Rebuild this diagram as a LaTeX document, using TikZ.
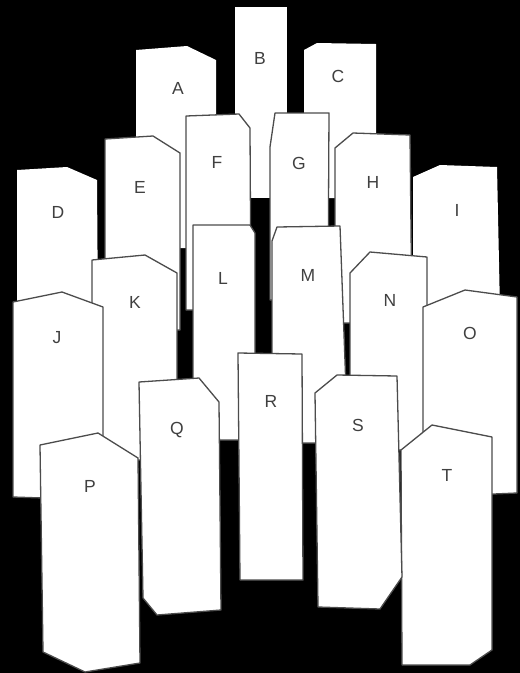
\documentclass[tikz,border=0pt]{standalone}
\usepackage{fontspec}
\setmainfont{Liberation Sans}
\begin{document}
\begin{tikzpicture}[x=1pt,y=-1pt,
  back/.style={fill=white,draw=none},
  card/.style={fill=white,draw=black!70,line width=1.3pt,line join=round},
  lbl/.style={font=\fontsize{17.5}{17.5}\selectfont,text=black!75,inner sep=0pt}]
\fill[black] (0,0) rectangle (520,673);
\useasboundingbox (0,0) rectangle (520,673);
% back row
\fill[back] (136,50) -- (187,46) -- (216,60) -- (216,248) -- (136,248) -- cycle;
\fill[back] (235,7) -- (287,7) -- (287,198) -- (235,198) -- cycle;
\fill[back] (304,50) -- (317,43) -- (376,44) -- (376,198) -- (304,198) -- cycle;
\fill[back] (17,170) -- (67,167) -- (97,180) -- (98,320) -- (17,320) -- cycle;
\fill[back] (413,177) -- (440,165) -- (497,167) -- (500,310) -- (413,310) -- cycle;
% second row
\draw[card] (105,139) -- (153,136) -- (180,153) -- (180,330) -- (105,330) -- cycle;
\draw[card] (186,116) -- (239,114) -- (250,128) -- (251,310) -- (186,310) -- cycle;
\draw[card] (275,113) -- (329,113) -- (328,300) -- (270,300) -- (270,147) -- cycle;
\draw[card] (335,148) -- (353,133) -- (410,135) -- (412,323) -- (335,323) -- cycle;
% third row
\draw[card] (92,260) -- (145,255) -- (177,273) -- (177,460) -- (92,460) -- cycle;
\draw[card] (193,225) -- (250,225) -- (255,233) -- (255,440) -- (193,440) -- cycle;
\draw[card] (272,241) -- (277,227) -- (340,226) -- (348,443) -- (272,443) -- cycle;
\draw[card] (350,273) -- (370,252) -- (427,257) -- (427,450) -- (350,450) -- cycle;
\draw[card] (13,302) -- (62,292) -- (103,307) -- (103,500) -- (13,497) -- cycle;
\draw[card] (423,307) -- (465,290) -- (517,297) -- (517,493) -- (423,497) -- cycle;
% front row
\draw[card] (139,382) -- (199,378) -- (219,402) -- (221,610) -- (157,615) -- (143,598) -- cycle;
\draw[card] (238,353) -- (302,354) -- (303,580) -- (240,580) -- cycle;
\draw[card] (401,450) -- (432,425) -- (492,437) -- (492,650) -- (470,665) -- (402,665) -- cycle;
\draw[card] (315,393) -- (337,375) -- (397,376) -- (402,577) -- (380,609) -- (318,607) -- cycle;
\draw[card] (40,445) -- (98,433) -- (138,458) -- (140,663) -- (85,672) -- (43,652) -- cycle;
% labels
\node[lbl] (lA) at (178,88) {A};
\node[lbl] (lB) at (260,58) {B};
\node[lbl] (lC) at (338,76) {C};
\node[lbl] (lD) at (58,212) {D};
\node[lbl] (lE) at (140,187) {E};
\node[lbl] (lF) at (217,162) {F};
\node[lbl] (lG) at (299,163) {G};
\node[lbl] (lH) at (373,182) {H};
\node[lbl] (lI) at (457,210) {I};
\node[lbl] (lJ) at (57,338) {J};
\node[lbl] (lK) at (135,302) {K};
\node[lbl] (lL) at (223,278) {L};
\node[lbl] (lM) at (308,275) {M};
\node[lbl] (lN) at (390,300) {N};
\node[lbl] (lO) at (470,333) {O};
\node[lbl] (lP) at (90,486) {P};
\node[lbl] (lQ) at (177,430) {Q};
\node[lbl] (lR) at (271,401) {R};
\node[lbl] (lS) at (358,425) {S};
\node[lbl] (lT) at (447,475) {T};
\end{tikzpicture}
\end{document}
